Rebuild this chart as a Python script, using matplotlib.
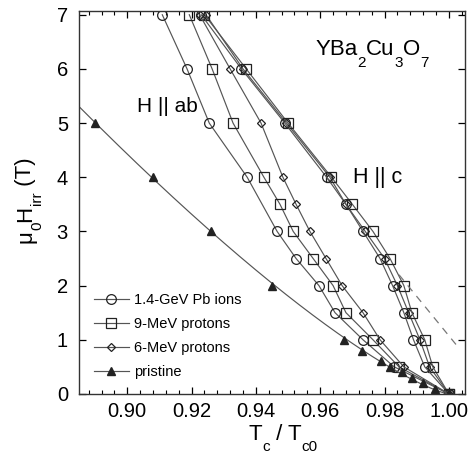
import numpy as np
import matplotlib
matplotlib.use("Agg")
import matplotlib.pyplot as plt
from matplotlib.ticker import MultipleLocator, AutoMinorLocator
from matplotlib.transforms import IdentityTransform

plt.rcParams['font.family'] = ['Liberation Sans', 'DejaVu Sans']

# ---- H || ab data ----
ab_pb_t = [0.9109, 0.9186, 0.9255, 0.9373, 0.9466, 0.9525, 0.9596, 0.9646, 0.9733, 0.9830, 1.0]
ab_pb_h = [7, 6, 5, 4, 3, 2.5, 2, 1.5, 1, 0.5, 0]

ab_p9_t = [0.9193, 0.9264, 0.9329, 0.9425, 0.9475, 0.9516, 0.9578, 0.9640, 0.9680, 0.9764, 0.9845, 1.0]
ab_p9_h = [7, 6, 5, 4, 3.5, 3, 2.5, 2, 1.5, 1, 0.5, 0]

ab_p6_t = [0.9225, 0.9320, 0.9416, 0.9484, 0.9525, 0.9568, 0.9618, 0.9668, 0.9733, 0.9786, 0.9860, 1.0]
ab_p6_h = [7, 6, 5, 4, 3.5, 3, 2.5, 2, 1.5, 1, 0.5, 0]

ab_pr_t = [0.890, 0.908, 0.926, 0.945, 0.9674, 0.973, 0.979, 0.9817, 0.9854, 0.9885, 0.992, 0.9957, 1.0]
ab_pr_h = [5, 4, 3, 2, 1, 0.8, 0.6, 0.5, 0.4, 0.3, 0.2, 0.1, 0]

# ---- H || c data ----
c_pb_t = [0.9230, 0.9355, 0.9490, 0.9620, 0.9680, 0.9733, 0.9786, 0.9825, 0.9860, 0.9890, 0.9925, 1.0]
c_pb_h = [7, 6, 5, 4, 3.5, 3, 2.5, 2, 1.5, 1, 0.5, 0]

c_p9_t = [0.9240, 0.9370, 0.9500, 0.9635, 0.9700, 0.9764, 0.9817, 0.9860, 0.9885, 0.9925, 0.9950, 1.0]
c_p9_h = [7, 6, 5, 4, 3.5, 3, 2.5, 2, 1.5, 1, 0.5, 0]

c_p6_t = [0.9245, 0.9360, 0.9495, 0.9630, 0.9680, 0.9740, 0.9800, 0.9840, 0.9875, 0.9910, 0.9940, 1.0]
c_p6_h = [7, 6, 5, 4, 3.5, 3, 2.5, 2, 1.5, 1, 0.5, 0]

# dashed guide line (H || c)
dash_t = [0.9845, 1.0028]
dash_h = [2.2, 0.87]

labels = ['1.4-GeV Pb ions', '9-MeV protons', '6-MeV protons', 'pristine']

W, H = 473, 457
fig = plt.figure(figsize=(W / 100, H / 100), dpi=100)
ax = fig.add_axes([0.167, 0.138, 0.816, 0.838])

lc = '#555555'
ec = '#222222'
lw = 0.85

def series(t, h, marker, ms, label=None, mew=0.9):
    ax.plot(t, h, '-', color=lc, lw=lw, marker=marker, ms=ms,
            mfc='none', mec=ec, mew=mew, label=label)

# H || c curves
series(c_p6_t, c_p6_h, 'D', 4.2)
series(c_p9_t, c_p9_h, 's', 7.0)
series(c_pb_t, c_pb_h, 'o', 7.0)
ax.plot(dash_t, dash_h, '--', color='#777777', lw=0.9, dashes=(6, 5))

# H || ab curves
series(ab_pb_t, ab_pb_h, 'o', 7.0, labels[0])
series(ab_p9_t, ab_p9_h, 's', 7.0, labels[1])
series(ab_p6_t, ab_p6_h, 'D', 4.2, labels[2])

# pristine: markers + power-law fit derived from the data
pt = np.array(ab_pr_t[:-1]); ph = np.array(ab_pr_h[:-1])
n, lnA = np.polyfit(np.log(1 - pt), np.log(ph), 1, w=ph ** 2)
tt = np.linspace(0.885, 1.0, 300)
ax.plot(tt, np.exp(lnA) * (1 - tt) ** n, '-', color=lc, lw=lw)
ax.plot(ab_pr_t, ab_pr_h, '^', ms=5.5, color=ec, mec=ec)
ax.plot([], [], '-^', color=lc, lw=lw, ms=5.5, mfc=ec, mec=ec, label=labels[3])

ax.set_xlim(0.885, 1.005)
ax.set_ylim(0, 7.07)
ax.yaxis.set_major_locator(MultipleLocator(1))
ax.set_xticks([0.90, 0.92, 0.94, 0.96, 0.98, 1.00])
ax.set_xticklabels(['0.90', '0.92', '0.94', '0.96', '0.98', '1.00'])
ax.xaxis.set_minor_locator(AutoMinorLocator(5))
ax.tick_params(which='both', direction='in', top=True, right=True, labelsize=14.5)
ax.tick_params(which='major', length=5, width=0.9, pad=6)
ax.tick_params(axis='y', which='major', pad=8)
ax.tick_params(which='minor', length=3, width=0.8)
for s in ax.spines.values():
    s.set_linewidth(1.0)
    s.set_color('#333333')

leg = ax.legend(loc='lower left', bbox_to_anchor=(0.0, 0.0), frameon=False,
                fontsize=10.5, handlelength=2.4, handletextpad=0.4,
                labelspacing=0.7, borderaxespad=0.55, borderpad=0.45)

# ---- rich text with strongly lowered subscripts (pixel coords, origin bottom-left) ----
renderer = fig.canvas.get_renderer()

def rich(cx, base, pieces, rotate=False):
    """pieces: list of (text, fontsize, drop_px). cx = centre along writing
    direction, base = baseline position (px from bottom / from left)."""
    arts = []
    for txt, fs, drop in pieces:
        t = fig.text(0, 0, txt, fontsize=fs, transform=IdentityTransform(),
                     ha='left', va='baseline', rotation=90 if rotate else 0,
                     rotation_mode='anchor')
        arts.append((t, drop))
    widths = []
    for t, _ in arts:
        bb = t.get_window_extent(renderer)
        widths.append(bb.height if rotate else bb.width)
    total = sum(widths)
    pos = cx - total / 2
    for (t, drop), w in zip(arts, widths):
        if rotate:
            t.set_position((base + drop, pos))
        else:
            t.set_position((pos, base - drop))
        pos += w

# x label: T_c / T_c0
rich(283, H - 440, [('T', 16, 0), ('c', 11, 11), (' / ', 16, 0),
                    ('T', 16, 0), ('c0', 11, 11)])
# y label: mu_0 H_irr (T)
rich(H - 200, 31, [('μ', 16, 0), ('0', 11, 10), ('H', 16, 0),
                   ('irr', 11, 10), (' (T)', 16, 0)], rotate=True)
# YBa2Cu3O7
rich(372, H - 55, [('YBa', 16, 0), ('2', 11, 12), ('Cu', 16, 0),
                   ('3', 11, 12), ('O', 16, 0), ('7', 11, 12)])

ax.text(0.9125, 5.3, 'H || ab', fontsize=15, ha='center', va='center')
ax.text(0.978, 4.0, 'H || c', fontsize=15.5, ha='center', va='center')

fig.savefig('out.png', dpi=100)
